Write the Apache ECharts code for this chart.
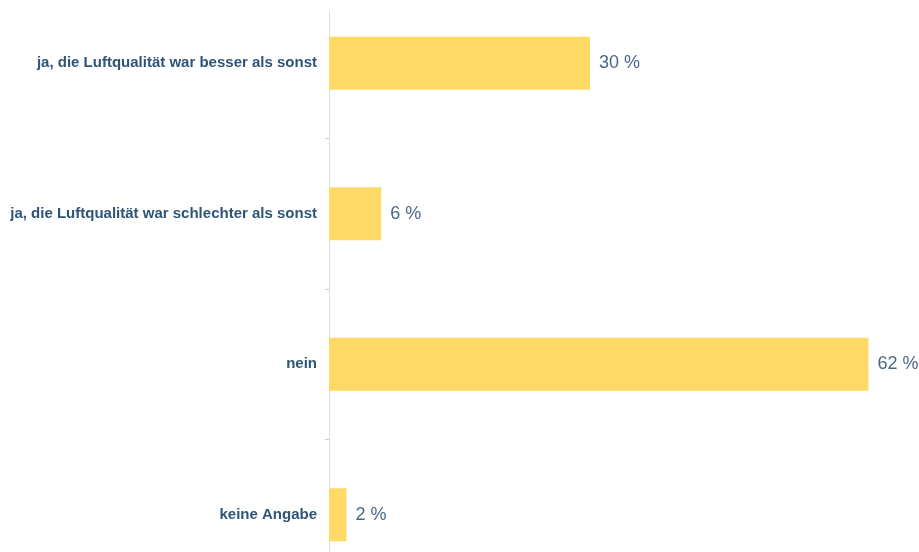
<!DOCTYPE html>
<html>
<head>
<meta charset="utf-8">
<script src="https://cdn.jsdelivr.net/npm/echarts@6/dist/echarts.min.js"></script>
<style>
  html, body { margin: 0; padding: 0; background: #ffffff; }
  #chart { width: 919px; height: 552px; }
</style>
</head>
<body>
<div id="chart"></div>
<script>
// Answer categories, top to bottom
const categories = [
  'ja, die Luftqualität war besser als sonst',
  'ja, die Luftqualität war schlechter als sonst',
  'nein',
  'keine Angabe'
];
// Share of respondents in percent
const shares = [30, 6, 62, 2];

const chart = echarts.init(document.getElementById('chart'), null, { renderer: 'canvas' });

chart.setOption({
  animation: false,
  backgroundColor: '#ffffff',
  grid: [
    {
      // bar area; the category bands run past the visible frame
      left: 329, top: -12, width: 870, height: 602,
      containLabel: false,
      outerBoundsMode: 'none'
    },
    {
      // carries only the vertical baseline, which starts a bit below the top
      left: 329, top: 12, bottom: 0, width: 10,
      containLabel: false,
      outerBoundsMode: 'none'
    }
  ],
  xAxis: [
    { type: 'value', gridIndex: 0, min: 0, max: 100, show: false },
    { type: 'value', gridIndex: 1, min: 0, max: 1, show: false }
  ],
  yAxis: [
    {
      type: 'category',
      gridIndex: 0,
      data: categories,
      inverse: true,
      axisLine: { show: false },
      axisTick: { show: true, length: 4, lineStyle: { color: '#cfcfcf' } },
      axisLabel: {
        margin: 12,
        color: '#2f5478',
        fontFamily: 'Liberation Sans, Arial, sans-serif',
        fontWeight: 'bold',
        fontSize: 15
      },
      splitLine: { show: false }
    },
    {
      type: 'value',
      gridIndex: 1,
      min: 0,
      max: 1,
      axisLine: { show: true, lineStyle: { color: '#dcdcdc', width: 1 } },
      axisTick: { show: false },
      axisLabel: { show: false },
      splitLine: { show: false }
    }
  ],
  series: [{
    type: 'bar',
    xAxisIndex: 0,
    yAxisIndex: 0,
    data: shares,
    barWidth: 53,
    itemStyle: { color: '#ffd966' },
    label: {
      show: true,
      position: 'right',
      distance: 9,
      formatter: p => p.value + ' %',
      color: '#4a6688',
      fontFamily: 'Liberation Sans, Arial, sans-serif',
      fontSize: 18
    }
  }]
});
</script>
</body>
</html>
